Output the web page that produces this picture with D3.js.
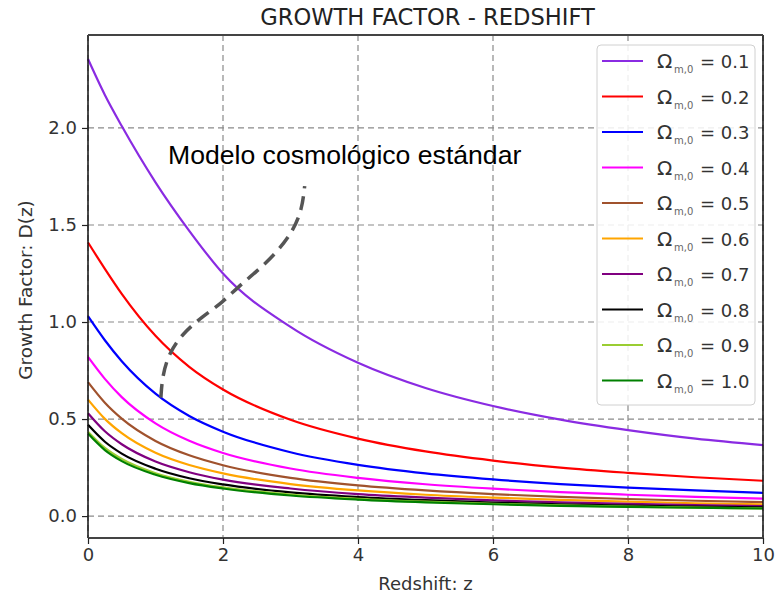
<!DOCTYPE html>
<html><head><meta charset="utf-8">
<script src="https://cdn.jsdelivr.net/npm/d3@7"></script>
<style>body{margin:0;background:#fff} svg{display:block}</style>
</head><body><svg id="c" width="779" height="597"></svg>
<script>
// ---- data ----
const zValues = [0, 0.25, 0.5, 1, 1.5, 2, 3, 4, 5, 6, 7, 8, 9, 10];
const omegaLabels = ["0.1", "0.2", "0.3", "0.4", "0.5", "0.6", "0.7", "0.8", "0.9", "1.0"];
const seriesColors = ["#8a2be2", "#ff0000", "#0000ff", "#ff00ff", "#a0522d", "#ffa500", "#800080", "#000000", "#9acd32", "#008000"];
const dOmega01 = [2.355, 2.17, 2.01, 1.72, 1.47, 1.25, 0.975, 0.79, 0.66, 0.567, 0.497, 0.443, 0.399, 0.366];
const dOmega02 = [1.41, 1.274, 1.145, 0.929, 0.769, 0.652, 0.496, 0.399, 0.333, 0.286, 0.250, 0.223, 0.200, 0.182];
const dOmega03 = [1.03, 0.906, 0.798, 0.631, 0.516, 0.435, 0.329, 0.264, 0.220, 0.189, 0.165, 0.147, 0.132, 0.120];
const dOmega04 = [0.82, 0.707, 0.613, 0.478, 0.388, 0.325, 0.245, 0.197, 0.164, 0.141, 0.123, 0.110, 0.099, 0.090];
const dOmega05 = [0.69, 0.584, 0.502, 0.387, 0.313, 0.262, 0.197, 0.158, 0.132, 0.113, 0.099, 0.088, 0.079, 0.072];
const dOmega06 = [0.60, 0.501, 0.427, 0.326, 0.263, 0.220, 0.165, 0.132, 0.110, 0.095, 0.083, 0.074, 0.066, 0.060];
const dOmega07 = [0.53, 0.437, 0.370, 0.281, 0.226, 0.188, 0.142, 0.113, 0.095, 0.081, 0.071, 0.063, 0.057, 0.052];
const dOmega08 = [0.47, 0.383, 0.322, 0.244, 0.195, 0.163, 0.122, 0.098, 0.082, 0.070, 0.061, 0.054, 0.049, 0.045];
const dOmega09 = [0.435, 0.351, 0.294, 0.221, 0.177, 0.148, 0.111, 0.089, 0.074, 0.063, 0.055, 0.049, 0.044, 0.040];
const dOmega10 = [0.425, 0.340, 0.283, 0.213, 0.170, 0.142, 0.106, 0.085, 0.071, 0.061, 0.053, 0.047, 0.043, 0.039];
const xTicks = [0, 2, 4, 6, 8, 10];
const yTicks = [0, 0.5, 1.0, 1.5, 2.0];
const annotationText = "Modelo cosmológico estándar";
const annotationAnchor = [1.185, 1.814];
const annotationZ = [1.08, 1.10, 1.20, 1.40, 1.70, 1.99, 2.22, 2.50, 2.80, 3.04, 3.17, 3.21];
const annotationD = [0.61, 0.72, 0.84, 0.94, 1.03, 1.10, 1.18, 1.26, 1.36, 1.47, 1.58, 1.70];

const allSeries = [dOmega01, dOmega02, dOmega03, dOmega04, dOmega05, dOmega06, dOmega07, dOmega08, dOmega09, dOmega10];

// ---- layout ----
const svg = d3.select("#c");
const L = 88, R = 763, T = 35, B = 538;
const x = d3.scaleLinear().domain([0, 10]).range([L, R]);
const y = d3.scaleLinear().domain([-0.113, 2.479]).range([B, T]);
const font = "'DejaVu Sans', sans-serif";

// grid
const grid = svg.append("g");
grid.selectAll("line.h").data(yTicks).join("line")
  .attr("x1", L).attr("x2", R).attr("y1", d => y(d)).attr("y2", d => y(d))
  .attr("stroke", "#8a8a8a").attr("stroke-width", 1.2).attr("stroke-dasharray", "6,4");
grid.selectAll("line.v").data(xTicks).join("line")
  .attr("y1", T).attr("y2", B).attr("x1", d => x(d)).attr("x2", d => x(d))
  .attr("stroke", "#8a8a8a").attr("stroke-width", 1.2).attr("stroke-dasharray", "6,4");

// lines
const line = d3.line().x((d, i) => x(zValues[i])).y(d => y(d)).curve(d3.curveMonotoneX);
svg.append("g").selectAll("path").data(allSeries).join("path")
  .attr("d", d => line(d)).attr("fill", "none")
  .attr("stroke", (d, i) => seriesColors[i]).attr("stroke-width", 2.2);

// frame
svg.append("line").attr("x1", L).attr("x2", L).attr("y1", T).attr("y2", B).attr("stroke", "#111").attr("stroke-width", 1.5);
svg.append("line").attr("x1", R).attr("x2", R).attr("y1", T).attr("y2", B).attr("stroke", "#111").attr("stroke-width", 1.5);
svg.append("line").attr("x1", L).attr("x2", R).attr("y1", T).attr("y2", T).attr("stroke", "#444").attr("stroke-width", 2);
svg.append("line").attr("x1", L).attr("x2", R).attr("y1", B).attr("y2", B).attr("stroke", "#444").attr("stroke-width", 2);

// axes
const yAxis = svg.append("g").attr("transform", `translate(${L},0)`)
  .call(d3.axisLeft(y).tickValues(yTicks).tickFormat(d3.format(".1f")).tickSize(6).tickPadding(5));
const xAxis = svg.append("g").attr("transform", `translate(0,${B})`)
  .call(d3.axisBottom(x).tickValues(xTicks).tickFormat(d3.format("d")).tickSize(6).tickPadding(4));
[yAxis, xAxis].forEach(a => {
  a.select(".domain").remove();
  a.selectAll(".tick line").attr("stroke", "#222").attr("stroke-width", 1.2);
  a.selectAll(".tick text").attr("fill", "#333").style("font-family", font).style("font-size", "18px");
});

// titles
svg.append("text").attr("x", (L + R) / 2 + 2).attr("y", 25).attr("text-anchor", "middle")
  .style("font-family", font).style("font-size", "22.6px").attr("fill", "#222").text("GROWTH FACTOR - REDSHIFT");
svg.append("text").attr("x", (L + R) / 2).attr("y", 590).attr("text-anchor", "middle")
  .style("font-family", font).style("font-size", "18px").attr("fill", "#333").text("Redshift: z");
svg.append("text").attr("transform", "translate(32,290) rotate(-90)").attr("text-anchor", "middle")
  .style("font-family", font).style("font-size", "18.5px").attr("fill", "#333").text("Growth Factor: D(z)");

// legend
const lg = svg.append("g");
lg.append("rect").attr("x", 597).attr("y", 45).attr("width", 158).attr("height", 360).attr("rx", 4)
  .attr("fill", "#fff").attr("fill-opacity", 0.85).attr("stroke", "#d0d0d0").attr("stroke-width", 1);
const items = lg.selectAll("g.item").data(omegaLabels).join("g")
  .attr("transform", (d, i) => `translate(0,${61 + i * 35.5})`);
items.append("line").attr("x1", 602).attr("x2", 643).attr("y1", 0).attr("y2", 0)
  .attr("stroke", (d, i) => seriesColors[i]).attr("stroke-width", 2.2);
items.append("text").attr("x", 657).attr("y", 7).style("font-family", font).style("font-size", "20px").attr("fill", "#333").text("Ω");
items.append("text").attr("x", 674).attr("y", 12).style("font-family", font).style("font-size", "10px").attr("fill", "#666").text("m,0");
items.append("text").attr("x", 700).attr("y", 7).style("font-family", font).style("font-size", "18px").attr("fill", "#333").text(d => "= " + d);

// annotation
const aLine = d3.line().x((d, i) => x(annotationZ[i])).y(d => y(d)).curve(d3.curveBasis);
svg.append("path").attr("d", aLine(annotationD)).attr("fill", "none")
  .attr("stroke", "#555").attr("stroke-width", 3.5).attr("stroke-dasharray", "14,8");
svg.append("text").attr("x", x(annotationAnchor[0])).attr("y", y(annotationAnchor[1]))
  .style("font-family", "'Liberation Sans', Arial, sans-serif").style("font-size", "26.6px").attr("fill", "#000")
  .text(annotationText);
</script></body></html>
